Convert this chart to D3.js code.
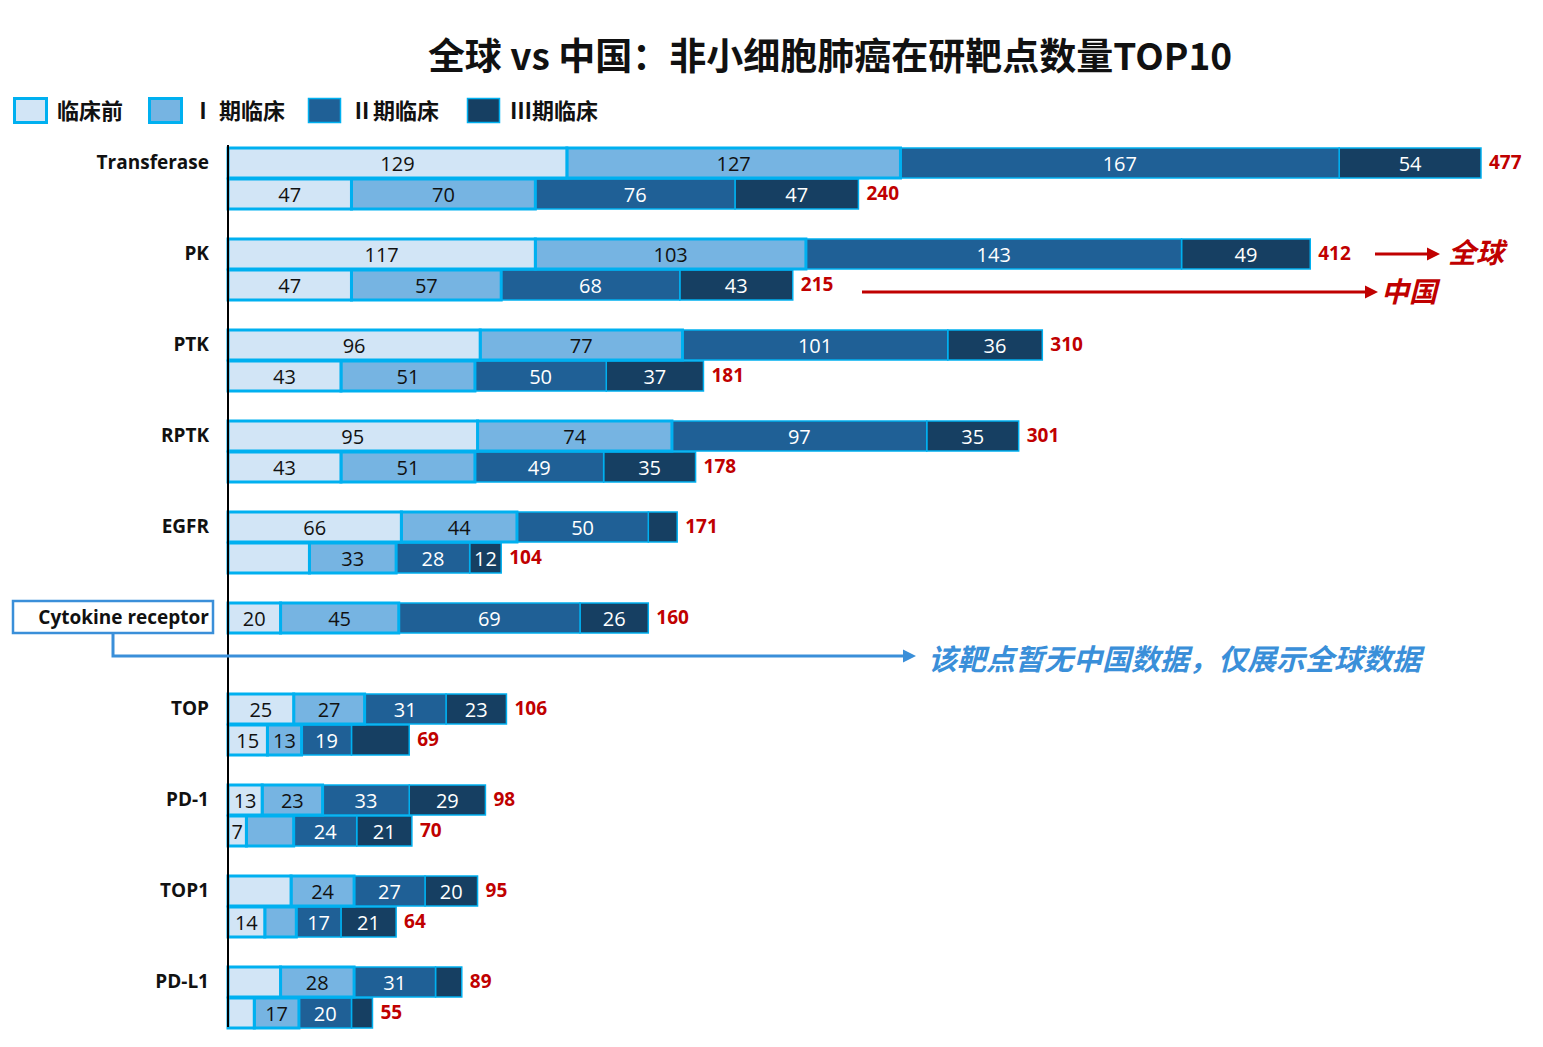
<!DOCTYPE html>
<html>
<head>
<meta charset="utf-8">
<script src="https://cdn.jsdelivr.net/npm/d3@7"></script>
<style>
  body { margin: 0; background: #ffffff; }
  svg { display: block; font-family: "Open Sans", "Noto Sans", "Noto Sans CJK SC", sans-serif; }
</style>
</head>
<body>
<div id="chart"></div>
<script>
// ---- data ----
var categories = ["Transferase", "PK", "PTK", "RPTK", "EGFR", "Cytokine receptor", "TOP", "PD-1", "TOP1", "PD-L1"];
var stages = ["临床前", "Ⅰ 期临床", "Ⅱ期临床", "Ⅲ期临床"];

// 全球
var globalPre = [129, 117, 96, 95, 66, 20, 25, 13, 24, 20];
var globalP1  = [127, 103, 77, 74, 44, 45, 27, 23, 24, 28];
var globalP2  = [167, 143, 101, 97, 50, 69, 31, 33, 27, 31];
var globalP3  = [54, 49, 36, 35, 11, 26, 23, 29, 20, 10];

// 中国 (Cytokine receptor has no China data)
var chinaPre = [47, 47, 43, 43, 31, null, 15, 7, 14, 10];
var chinaP1  = [70, 57, 51, 51, 33, null, 13, 18, 12, 17];
var chinaP2  = [76, 68, 50, 49, 28, null, 19, 24, 17, 20];
var chinaP3  = [47, 43, 37, 35, 12, null, 22, 21, 21, 8];

// segments whose value is not printed in the original
var hiddenLabels = ["EGFR|global|3", "TOP1|global|0", "PD-L1|global|0", "PD-L1|global|3",
                    "EGFR|china|0", "TOP|china|3", "PD-1|china|1", "TOP1|china|1",
                    "PD-L1|china|0", "PD-L1|china|3"];

var fills = ["#d2e5f6", "#76b4e2", "#1f6096", "#163f62"];
var borderBlue = "#00b0f0";
var red = "#c00000";
var noteBlue = "#3a8fd9";

var width = 1543, height = 1047;
var svg = d3.select("#chart").append("svg")
	.attr("width", width)
	.attr("height", height);

// ---- scales ----
var x = d3.scaleLinear().domain([0, 477]).range([228, 1481]);
var y = d3.scaleBand().domain(categories).range([148, 148 + 91 * categories.length]);
var barH = 30;

function rowsFor(i) {
	var rows = [{key: "global", vals: [globalPre[i], globalP1[i], globalP2[i], globalP3[i]], dy: 0}];
	if (chinaPre[i] != null) {
		rows.push({key: "china", vals: [chinaPre[i], chinaP1[i], chinaP2[i], chinaP3[i]], dy: 31});
	}
	return rows;
}

// build segments
var segments = [], totals = [];
categories.forEach(function (cat, i) {
	rowsFor(i).forEach(function (r) {
		var acc = 0;
		r.vals.forEach(function (v, s) {
			segments.push({cat: cat, row: r.key, stage: s, start: acc, value: v, y: y(cat) + r.dy});
			acc += v;
		});
		totals.push({cat: cat, row: r.key, total: acc, y: y(cat) + r.dy});
	});
});

var barG = svg.append("g");
// dark stages first so the thick borders of light stages sit on top
var order = segments.slice().sort(function (a, b) { return b.stage - a.stage; });
barG.selectAll("rect.seg")
	.data(order)
	.enter()
	.append("rect")
		.attr("class", "seg")
		.attr("x", d => x(d.start))
		.attr("y", d => d.y)
		.attr("width", d => x(d.start + d.value) - x(d.start))
		.attr("height", barH)
		.attr("fill", d => fills[d.stage])
		.attr("stroke", borderBlue)
		.attr("stroke-width", d => d.stage < 2 ? 3 : 1.5);

barG.selectAll("text.val")
	.data(segments.filter(d => hiddenLabels.indexOf(d.cat + "|" + d.row + "|" + d.stage) < 0))
	.enter()
	.append("text")
		.attr("class", "val")
		.attr("x", d => (x(d.start) + x(d.start + d.value)) / 2)
		.attr("y", d => d.y + barH / 2 + 8)
		.attr("text-anchor", "middle")
		.attr("font-size", "20px")
		.attr("fill", d => d.stage < 2 ? "#111" : "#ffffff")
		.text(d => d.value);

barG.selectAll("text.total")
	.data(totals)
	.enter()
	.append("text")
		.attr("class", "total")
		.attr("x", d => x(d.total) + 8)
		.attr("y", d => d.y + barH / 2 + 6)
		.attr("font-size", "19px")
		.attr("font-weight", "700")
		.attr("fill", red)
		.text(d => d.total);

// axis line
svg.append("line")
	.attr("x1", 228).attr("x2", 228)
	.attr("y1", 145).attr("y2", 1027)
	.attr("stroke", "#000").attr("stroke-width", 2);

// category labels
var cytokineBox = {x: 13, y: y("Cytokine receptor") - 2, w: 200, h: 32};
svg.append("rect")
	.attr("x", cytokineBox.x).attr("y", cytokineBox.y)
	.attr("width", cytokineBox.w).attr("height", cytokineBox.h)
	.attr("fill", "#fff").attr("stroke", noteBlue).attr("stroke-width", 2.5);

svg.selectAll("text.cat")
	.data(categories)
	.enter()
	.append("text")
		.attr("class", "cat")
		.attr("x", 209)
		.attr("y", d => y(d) + 21)
		.attr("text-anchor", "end")
		.attr("font-size", "19px")
		.attr("font-weight", "700")
		.attr("fill", "#111")
		.text(d => d);

// title
svg.append("text")
	.attr("x", 830).attr("y", 70)
	.attr("text-anchor", "middle")
	.attr("font-family", "Noto Sans CJK SC")
	.attr("font-size", "37px")
	.attr("font-weight", "700")
	.attr("fill", "#111")
	.text("全球 vs 中国：非小细胞肺癌在研靶点数量TOP10");

// legend
var legendX = [13, 148, 307, 466];
var legend = svg.append("g");
stages.forEach(function (s, i) {
	legend.append("rect")
		.attr("x", legendX[i] + 1.5).attr("y", 98.5)
		.attr("width", 32).attr("height", 24)
		.attr("fill", fills[i])
		.attr("stroke", borderBlue)
		.attr("stroke-width", i < 2 ? 3 : 1.5);
	legend.append("text")
		.attr("x", legendX[i] + 44).attr("y", 119)
		.attr("font-family", "Noto Sans CJK SC")
		.attr("font-size", "22px")
		.attr("font-weight", "700")
		.attr("fill", "#111")
		.text(s);
});

// arrowhead markers
var defs = svg.append("defs");
[["arrRed", red], ["arrBlue", noteBlue]].forEach(function (m) {
	defs.append("marker")
		.attr("id", m[0])
		.attr("viewBox", "0 0 10 10")
		.attr("refX", 1).attr("refY", 5)
		.attr("markerWidth", 4.5).attr("markerHeight", 4.5)
		.attr("orient", "auto")
		.append("path")
			.attr("d", "M0,0 L10,5 L0,10 Z")
			.attr("fill", m[1]);
});

// 全球 / 中国 annotations
svg.append("line")
	.attr("x1", 1375).attr("x2", 1428).attr("y1", 254).attr("y2", 254)
	.attr("stroke", red).attr("stroke-width", 3).attr("marker-end", "url(#arrRed)");
svg.append("text")
	.attr("x", 1448).attr("y", 263)
	.attr("font-family", "Noto Sans CJK SC").attr("font-size", "28px")
	.attr("font-weight", "700").attr("font-style", "italic")
	.attr("fill", red).text("全球");

svg.append("line")
	.attr("x1", 862).attr("x2", 1366).attr("y1", 292).attr("y2", 292)
	.attr("stroke", red).attr("stroke-width", 3).attr("marker-end", "url(#arrRed)");
svg.append("text")
	.attr("x", 1381).attr("y", 302)
	.attr("font-family", "Noto Sans CJK SC").attr("font-size", "28px")
	.attr("font-weight", "700").attr("font-style", "italic")
	.attr("fill", red).text("中国");

// Cytokine receptor note
svg.append("path")
	.attr("d", "M113," + (cytokineBox.y + cytokineBox.h) + " V656 H904")
	.attr("fill", "none")
	.attr("stroke", noteBlue).attr("stroke-width", 3)
	.attr("marker-end", "url(#arrBlue)");
svg.append("text")
	.attr("x", 928).attr("y", 670)
	.attr("font-family", "Noto Sans CJK SC").attr("font-size", "29px")
	.attr("font-weight", "700").attr("font-style", "italic")
	.attr("fill", noteBlue).text("该靶点暂无中国数据，仅展示全球数据");
</script>
</body>
</html>
